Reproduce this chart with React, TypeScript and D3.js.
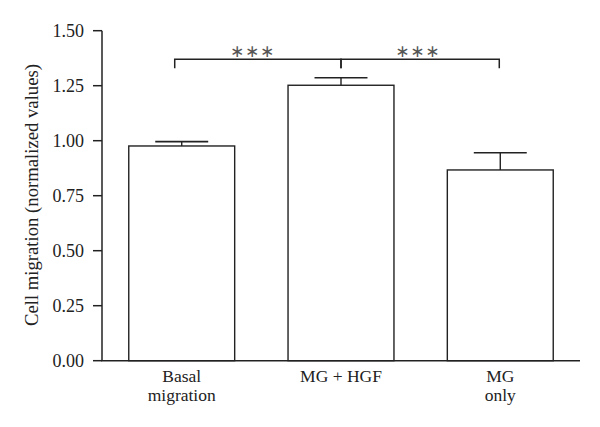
import React from "react";
import * as d3 from "d3";

const categories = ["Basal migration", "MG + HGF", "MG only"];
const labelLines = [["Basal", "migration"], ["MG + HGF"], ["MG", "only"]];
const means = [0.976, 1.252, 0.867];
const errors = [0.02, 0.034, 0.078];
const yTicks = [0, 0.25, 0.5, 0.75, 1.0, 1.25, 1.5];
const brackets = [
  { from: 0, to: 1, label: "∗" },
  { from: 1, to: 2, label: "∗" },
];
const bracketLevel = 1.37;

export default function App() {
  const W = 600, H = 427;
  const x = d3.scaleBand<string>().domain(categories).range([102, 580]).paddingInner(0.335).paddingOuter(0.168);
  const y = d3.scaleLinear().domain([0, 1.5]).range([360.7, 30.7]);
  const font = "'Liberation Serif', 'Times New Roman', serif";
  const bw = x.bandwidth();
  const capW = bw * 0.5;
  const cx = (i: number) => (x(categories[i]) as number) + bw / 2;
  const by = y(bracketLevel);
  const drop = 9;
  return (
    <svg width={W} height={H} style={{ position: "absolute", left: 0, top: 0, background: "#fff" }}>
      <rect x={0} y={0} width={W} height={H} fill="#fff" />
      {/* y axis */}
      <line x1={102} x2={102} y1={y(1.5)} y2={y(0)} stroke="#222" strokeWidth={1.5} />
      {yTicks.map((t) => (
        <g key={t}>
          <line x1={93} x2={102} y1={y(t)} y2={y(t)} stroke="#222" strokeWidth={1.5} />
          <text x={84} y={y(t)} dy="0.35em" textAnchor="end" fontFamily={font} fontSize={18} fill="#222">
            {d3.format(".2f")(t)}
          </text>
        </g>
      ))}
      <text transform={`translate(31,${y(0.753)}) rotate(-90)`} textAnchor="middle" dy="0.35em" fontFamily={font} fontSize={18.7} fill="#222">
        Cell migration (normalized values)
      </text>
      {/* bars */}
      {categories.map((c, i) => {
        const x0 = x(c) as number;
        const top = y(means[i]);
        const capY = y(means[i] + errors[i]);
        return (
          <g key={c}>
            <rect x={x0} y={top} width={bw} height={y(0) - top} fill="#fff" stroke="#222" strokeWidth={1.4} />
            <line x1={cx(i)} x2={cx(i)} y1={top} y2={capY} stroke="#222" strokeWidth={1.4} />
            <line x1={cx(i) - capW / 2} x2={cx(i) + capW / 2} y1={capY} y2={capY} stroke="#222" strokeWidth={1.6} />
            {labelLines[i].map((l, j) => (
              <text key={j} x={cx(i)} y={381.5 + j * 19.5} textAnchor="middle" fontFamily={font} fontSize={17.5} fill="#222">
                {l}
              </text>
            ))}
          </g>
        );
      })}
      {/* x axis */}
      <line x1={101.25} x2={580} y1={y(0)} y2={y(0)} stroke="#222" strokeWidth={1.5} />
      {/* significance brackets */}
      {brackets.map((b, k) => {
        const xa = cx(b.from) - (k === 0 ? 7 : 0);
        const xb = cx(b.to) - (k === 1 ? 1 : 0);
        const mid = k === 0 ? (xa + cx(1) - 1.5) / 2 - 5 : (cx(1) - 1.5 + xb) / 2 - 2;
        return (
          <g key={k}>
            <path d={`M${xa},${by + drop}V${by}H${xb}V${by + drop}`} fill="none" stroke="#222" strokeWidth={1.5} />
            {[-15, 0, 15].map((o) => (
              <text key={o} x={mid + o} y={by - 8.5} dy="0.35em" textAnchor="middle" fontFamily="'DejaVu Sans', sans-serif" fontSize={17} fill="#555">
                {b.label}
              </text>
            ))}
          </g>
        );
      })}
    </svg>
  );
}
